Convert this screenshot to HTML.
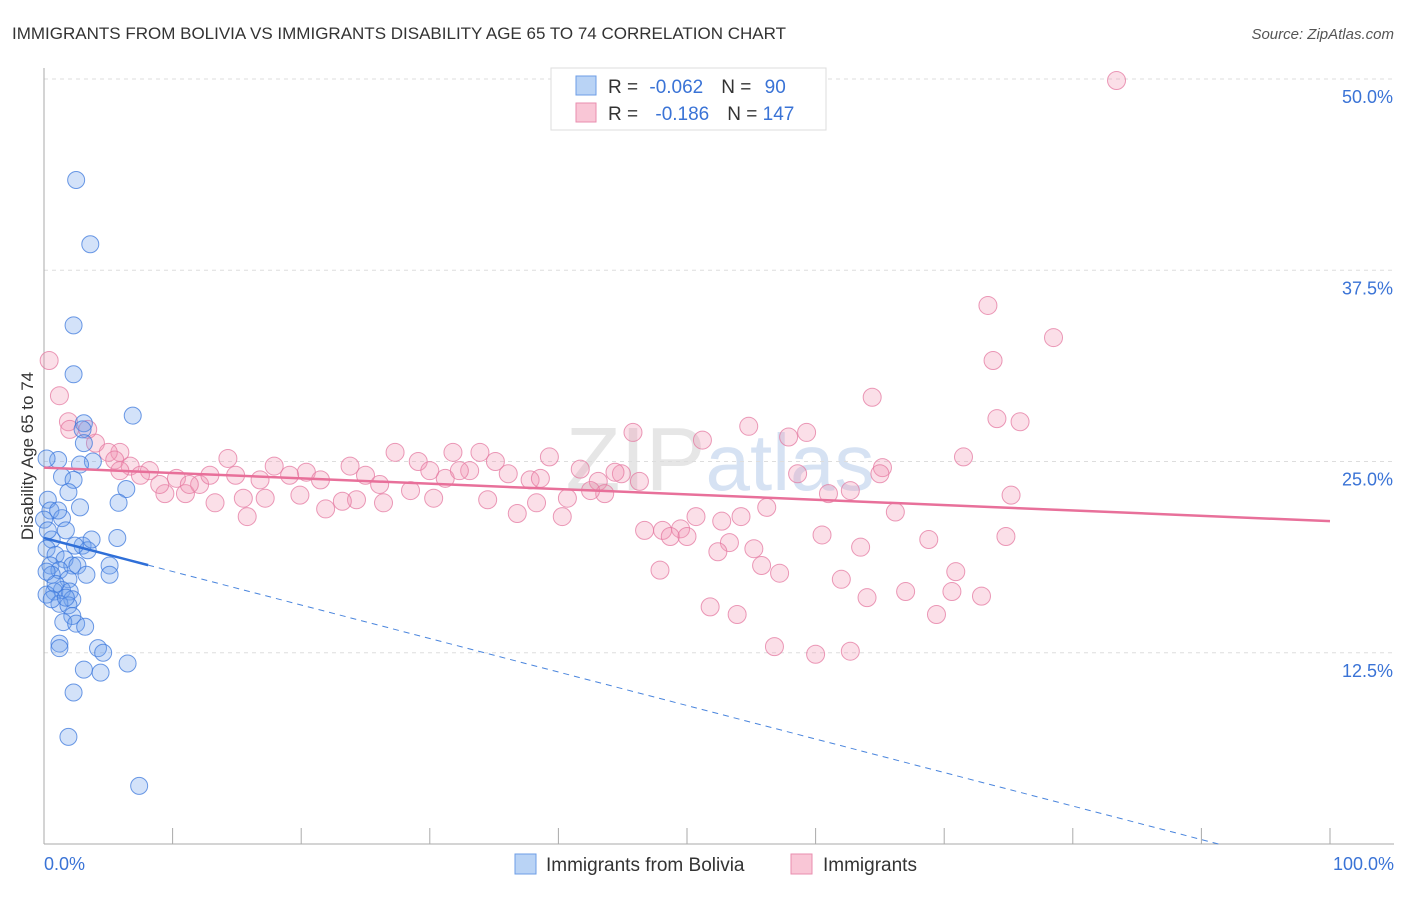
<!DOCTYPE html>
<html><head><meta charset="utf-8"><style>
body{margin:0;background:#fff;font-family:"Liberation Sans",sans-serif;}
svg text{font-family:"Liberation Sans",sans-serif;}
</style></head><body>
<svg id="chart" width="1406" height="892" xmlns="http://www.w3.org/2000/svg">
<text x="12" y="39" font-size="17" fill="#333">IMMIGRANTS FROM BOLIVIA VS IMMIGRANTS DISABILITY AGE 65 TO 74 CORRELATION CHART</text>
<text x="1394" y="39" font-size="15" fill="#555" font-style="italic" text-anchor="end">Source: ZipAtlas.com</text>
<text x="720" y="490" font-size="90" fill="#e6e6e6" text-anchor="middle" font-family="Liberation Serif">ZIP<tspan fill="#d6e2f3" font-family="Liberation Sans" font-size="80">atlas</tspan></text>
<g id="grid"></g>
<g id="axes"></g>
<g id="marks"></g>
<text transform="translate(33,456) rotate(-90)" font-size="17" fill="#333" text-anchor="middle">Disability Age 65 to 74</text>
<g>
<rect x="551" y="68" width="275" height="62" fill="#fff" stroke="#ddd"/>
<rect x="576" y="76" width="20" height="19" fill="#b9d3f5" stroke="#6d9ee6"/>
<rect x="576" y="103" width="20" height="19" fill="#f9c6d6" stroke="#e98eaf"/>
<text x="608" y="93" font-size="19" fill="#333">R = <tspan fill="#3a73d6" dx="6">-0.062</tspan><tspan dx="18" fill="#333">N = </tspan><tspan fill="#3a73d6" dx="8">90</tspan></text>
<text x="608" y="120" font-size="19" fill="#333">R = <tspan fill="#3a73d6" dx="12">-0.186</tspan><tspan dx="18" fill="#333">N = </tspan><tspan fill="#3a73d6">147</tspan></text>
</g>
<g>
<rect x="515" y="854" width="21" height="20" fill="#b9d3f5" stroke="#6d9ee6"/>
<text x="546" y="871" font-size="19" fill="#333">Immigrants from Bolivia</text>
<rect x="791" y="854" width="21" height="20" fill="#f9c6d6" stroke="#e98eaf"/>
<text x="823" y="871" font-size="19" fill="#333">Immigrants</text>
</g>
</svg>
<script>
const yTicks=[12.5,25,37.5,50];
const yTickLabels=["12.5%","25.0%","37.5%","50.0%"];
const xTickLabels=["0.0%","100.0%"];
const blueX=[2.5,3.6,2.3,2.3,6.9,3.1,3.0,3.1,3.8,1.1,2.8,0.2,1.4,2.3,6.4,1.9,0.3,5.8,2.8,0.5,1.4,0,1.7,5.7,0.6,0.2,3.0,3.4,0.9,1.6,2.2,0.5,5.1,2.6,1.2,3.3,5.1,0.6,1.9,1.4,0.8,2.0,0.2,2.2,1.2,1.9,2.2,1.5,2.5,3.2,1.2,1.2,4.2,4.6,6.5,3.1,4.4,2.3,1.9,7.4,0.3,0.9,0.2,0.6,1.1,1.7,2.4,3.7];
const blueY=[43.4,39.2,33.9,30.7,28.0,27.5,27.1,26.2,25.0,25.1,24.8,25.2,24.0,23.8,23.2,23.0,22.5,22.3,22.0,21.8,21.3,21.2,20.5,20.0,19.9,19.3,19.5,19.2,18.9,18.6,18.2,18.2,18.2,18.2,17.9,17.6,17.6,17.6,17.3,16.6,16.5,16.5,16.3,16.0,15.7,15.6,14.9,14.5,14.4,14.2,13.1,12.8,12.8,12.5,11.8,11.4,11.2,9.9,7.0,3.8,20.5,17.0,17.8,16.0,21.8,16.1,19.5,19.9];
const pinkX=[83.4,73.4,78.5,73.8,0.4,1.2,64.4,1.9,74.1,75.9,54.8,45.8,59.3,57.9,51.2,4.0,5.9,14.3,27.3,31.8,33.9,39.3,71.5,65.2,65.0,58.6,41.7,44.9,36.1,23.8,8.2,10.3,17.9,20.4,29.1,31.2,33.1,35.1,37.8,46.3,43.1,61.0,62.7,75.2,43.6,40.7,38.3,34.5,30.3,26.4,24.3,23.2,21.9,19.9,15.5,13.3,9.4,11.0,56.2,66.2,36.8,40.3,54.2,50.7,15.8,52.7,49.5,46.7,48.1,48.7,50.0,60.5,68.8,74.8,53.3,52.4,55.2,63.5,55.8,47.9,57.2,70.9,62.0,67.0,70.6,72.9,64.0,51.8,53.9,69.4,56.8,60.0,62.7,2.0,3.4,5.0,5.5,6.7,7.5,9.0,12.1,12.9,14.9,16.8,19.1,21.5,25.0,26.1,28.5,30.0,32.3,38.6,42.5,44.4,5.9,11.3,17.2];
const pinkY=[49.9,35.2,33.1,31.6,31.6,29.3,29.2,27.6,27.8,27.6,27.3,26.9,26.9,26.6,26.4,26.2,25.6,25.2,25.6,25.6,25.6,25.3,25.3,24.6,24.2,24.2,24.5,24.2,24.2,24.7,24.4,23.9,24.7,24.3,25.0,23.9,24.4,25.0,23.8,23.7,23.7,22.9,23.1,22.8,22.9,22.6,22.3,22.5,22.6,22.3,22.5,22.4,21.9,22.8,22.6,22.3,22.9,22.9,22.0,21.7,21.6,21.4,21.4,21.4,21.4,21.1,20.6,20.5,20.5,20.1,20.1,20.2,19.9,20.1,19.7,19.1,19.3,19.4,18.2,17.9,17.7,17.8,17.3,16.5,16.5,16.2,16.1,15.5,15.0,15.0,12.9,12.4,12.6,27.1,27.1,25.6,25.1,24.7,24.1,23.5,23.5,24.1,24.1,23.8,24.1,23.8,24.1,23.5,23.1,24.4,24.4,23.9,23.1,24.3,24.4,23.5,22.6];
const pinkTrend=[24.6,21.1];
const blueTrend=[20.0,-1.9];
const blueSolidEnd=8.1;

const NS="http://www.w3.org/2000/svg";
const X=v=>44+v*12.86, Y=v=>844-v*15.3;
function mk(tag,attrs,parent){const e=document.createElementNS(NS,tag);for(const k in attrs)e.setAttribute(k,attrs[k]);document.getElementById(parent).appendChild(e);return e;}
yTicks.forEach((t,i)=>{
  const l=mk('line',{x1:44,x2:1394,y1:Y(t),y2:Y(t),stroke:'#ddd','stroke-dasharray':'4,4'},'grid');
  
  
  const tx=mk('text',{x:1393,y:Y(t)+24,'font-size':18,fill:'#3a73d6','text-anchor':'end'},'grid');
  tx.textContent=yTickLabels[i];
  
  
});
const ax=mk('line',{x1:44,x2:44,y1:68,y2:844,stroke:'#aaa'},'axes');


const bx=mk('line',{x1:44,x2:1394,y1:844,y2:844,stroke:'#aaa'},'axes');


for(let i=0;i<=10;i++){
  const t=mk('line',{x1:X(i*10),x2:X(i*10),y1:828,y2:844,stroke:'#aaa'},'axes');
  
  
}
[[0,'start',44],[100,'end',1394]].forEach((d,i)=>{
  const tx=mk('text',{x:d[2],y:870,'font-size':18,fill:'#3a73d6','text-anchor':d[1]},'axes');
  tx.textContent=xTickLabels[i];
  
  
});
pinkX.forEach((x,i)=>{
  const c=mk('circle',{cx:X(x),cy:Y(pinkY[i]),r:9,fill:'rgba(242,150,180,0.3)',stroke:'rgba(228,120,160,0.75)','stroke-width':1},'marks');
  
  
});
blueX.forEach((x,i)=>{
  const c=mk('circle',{cx:X(x),cy:Y(blueY[i]),r:8.5,fill:'rgba(110,160,235,0.3)',stroke:'rgba(60,120,220,0.75)','stroke-width':1},'marks');
  
  
});
const bAt=x=>blueTrend[0]+(blueTrend[1]-blueTrend[0])*x/100;
const xEnd=Math.min(100,100*blueTrend[0]/(blueTrend[0]-blueTrend[1]));
const bd=mk('line',{x1:X(blueSolidEnd),y1:Y(bAt(blueSolidEnd)),x2:X(xEnd),y2:Y(bAt(xEnd)),stroke:'#4a85dd','stroke-width':1,'stroke-dasharray':'6,5'},'marks');


const bs=mk('line',{x1:X(0),y1:Y(bAt(0)),x2:X(blueSolidEnd),y2:Y(bAt(blueSolidEnd)),stroke:'#2f6fd8','stroke-width':2.5},'marks');


const pl=mk('line',{x1:X(0),y1:Y(pinkTrend[0]),x2:X(100),y2:Y(pinkTrend[1]),stroke:'#e8709a','stroke-width':2.5},'marks');


</script>
</body></html>
